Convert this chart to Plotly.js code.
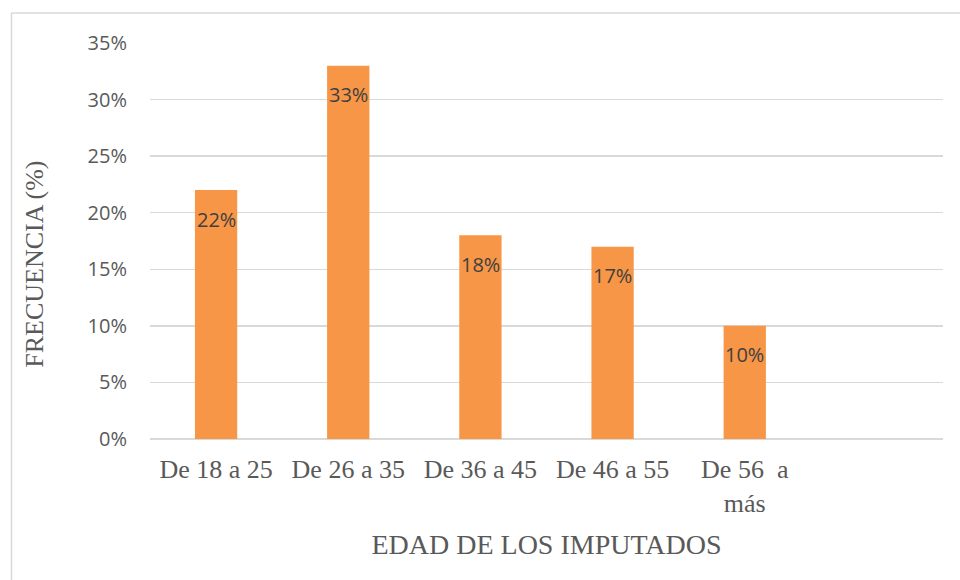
<!DOCTYPE html>
<html>
<head>
<meta charset="utf-8">
<script src="https://cdn.plot.ly/plotly-3.0.1.min.js"></script>
<style>html,body{margin:0;padding:0;background:#fff;}#chart{width:960px;height:580px;}</style>
</head>
<body>
<div id="chart"></div>
<script>
const categories = ["De 18 a 25", "De 26 a 35", "De 36 a 45", "De 46 a 55", "De 56  a<br>más"];
const values = [0.22, 0.33, 0.18, 0.17, 0.10];
const labels = ["22%", "33%", "18%", "17%", "10%"];
const yTicks = [0, 0.05, 0.10, 0.15, 0.20, 0.25, 0.30, 0.35];
const yTickText = ["0%", "5%", "10%", "15%", "20%", "25%", "30%", "35%"];
const xTitle = "EDAD DE LOS IMPUTADOS";
const yTitle = "FRECUENCIA (%)";

const trace = {
  type: "bar",
  x: categories,
  y: values,
  marker: {color: "#F79646"},
  hoverinfo: "none"
};

const serif = "Liberation Serif, Times New Roman, serif";

const annotations = categories.map((c, i) => ({
  x: c, y: values[i], xref: "x", yref: "y",
  text: labels[i], showarrow: false, yshift: -29,
  font: {family: "Open Sans, sans-serif", size: 20, color: "#404040"}
}));
annotations.push({
  xref: "paper", yref: "paper", x: -0.145, y: 0.44,
  xanchor: "center", yanchor: "middle",
  text: yTitle, textangle: -90, showarrow: false,
  font: {family: serif, size: 26, color: "#595959"}
});

const layout = {
  width: 960, height: 580,
  margin: {l: 150, r: 17, t: 43, b: 141},
  paper_bgcolor: "#ffffff",
  plot_bgcolor: "#ffffff",
  showlegend: false,
  bargap: 0.68,
  xaxis: {
    type: "category",
    range: [-0.5, 5.5],
    showgrid: false,
    showline: false,
    zeroline: false,
    ticks: "",
    ticklabelstandoff: 12,
    tickfont: {family: serif, size: 26, color: "#595959"},
    title: {text: xTitle, standoff: 17,
            font: {family: serif, size: 28, color: "#595959"}},
    automargin: false
  },
  yaxis: {
    range: [0, 0.35],
    tickvals: yTicks,
    ticktext: yTickText,
    showgrid: true,
    gridcolor: "#D9D9D9",
    gridwidth: 1.5,
    zeroline: true,
    zerolinecolor: "#D9D9D9",
    zerolinewidth: 1.5,
    showline: false,
    ticks: "",
    ticklabelstandoff: 22,
    tickfont: {family: "Open Sans, sans-serif", size: 20, color: "#595959"},
    automargin: false
  },
  annotations: annotations,
  shapes: [
    {type: "line", xref: "paper", yref: "paper", x0: -0.1747, x1: 1.03, y0: 1.0758, y1: 1.0758,
     line: {color: "#D9D9D9", width: 1.5}},
    {type: "line", xref: "paper", yref: "paper", x0: -0.1747, x1: -0.1747, y0: 1.0758, y1: -0.4,
     line: {color: "#D9D9D9", width: 1.5}}
  ]
};

Plotly.newPlot("chart", [trace], layout, {displayModeBar: false, staticPlot: true});
</script>
</body>
</html>
